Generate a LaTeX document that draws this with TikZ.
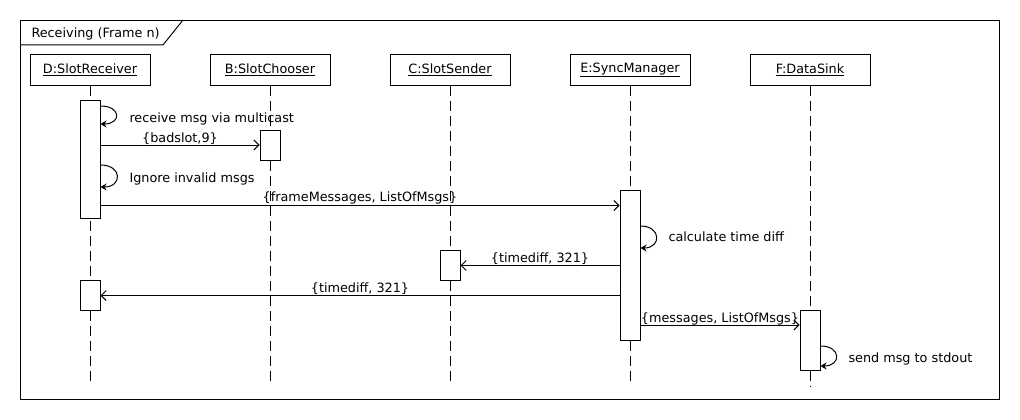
\documentclass[tikz,border=0pt]{standalone}
\usepackage{fontspec}
\setmainfont{DejaVu Sans}
\usetikzlibrary{arrows.meta}
\begin{document}
\begin{tikzpicture}[x=1pt,y=-1pt,line width=1pt,
  font=\fontsize{12.8}{15}\selectfont,
  head/.style={draw,minimum width=120pt,minimum height=30pt,inner sep=0pt},
  act/.style={draw,fill=white,minimum width=20pt,inner sep=0pt},
  life/.style={dash pattern=on 10pt off 5pt,line width=0.9pt},
  msg/.style={-{Straight Barb[length=5pt,width=10pt]}},
  selfmsg/.style={-{Stealth[length=6pt,width=7pt]}},
  lbl/.style={anchor=base,inner sep=0pt,yshift=3pt},
  note/.style={anchor=base west,inner sep=0pt}]
\useasboundingbox (0,0) rectangle (1020,420);
% frame
\node[draw,minimum width=979pt,minimum height=379pt,anchor=north west,inner sep=0pt] (frame) at (20,20) {};
\coordinate (tabL) at (20,45);
\coordinate (tabB) at (163,45);
\coordinate (tabT) at (183,20);
\draw (tabL) -- (tabB) -- (tabT);
\node[note] (title) at (31,37.5) {Receiving (Frame n)};
% heads
\node[head] (hD) at (90,70) {\underline{D:SlotReceiver}};
\node[head] (hB) at (270,70) {\underline{B:SlotChooser}};
\node[head] (hC) at (450,70) {\underline{C:SlotSender}};
\node[head] (hE) at (630,70) {\underline{E:SyncManager}};
\node[head] (hF) at (810,70) {\underline{F:DataSink}};
% lifeline ends
\coordinate (eD) at (90,384);
\coordinate (eB) at (270,384);
\coordinate (eC) at (450,384);
\coordinate (eE) at (630,384);
\coordinate (eF) at (810,386);
\draw[life] (hD.south) -- (eD);
\draw[life] (hB.south) -- (eB);
\draw[life] (hC.south) -- (eC);
\draw[life] (hE.south) -- (eE);
\draw[life] (hF.south) -- (eF);
% activations
\node[act,minimum height=118pt] (aD1) at (90,159) {};
\node[act,minimum height=30pt] (aB) at (270,145) {};
\node[act,minimum height=150pt] (aE) at (630,265) {};
\node[act,minimum height=30pt] (aC) at (450,265) {};
\node[act,minimum height=30pt] (aD2) at (90,295) {};
\node[act,minimum height=60pt] (aF) at (810,340) {};
% self message: receive
\draw[selfmsg] (aD1.east |- 0,106) .. controls +(21,0) and +(21,0) .. (aD1.east |- 0,124);
\node[note] (l1) at (129,122) {receive msg via multicast};
% badslot
\draw[msg] (aD1.east |- 0,145) -- node[lbl] (l2) {\{badslot,9\}} (aB.west |- 0,145);
% ignore
\draw[selfmsg] (aD1.east |- 0,165) .. controls +(22,0) and +(22,0) .. (aD1.east |- 0,187);
\node[note] (l3) at (129,182.5) {Ignore invalid msgs};
% frameMessages
\draw[msg] (aD1.east |- 0,205.5) -- node[lbl,yshift=1pt] (l4) {\{frameMessages, ListOfMsgs\}} (aE.west |- 0,205.5);
% calculate
\draw[selfmsg] (aE.east |- 0,226) .. controls +(21,0) and +(21,0) .. (aE.east |- 0,248);
\node[note] (l5) at (668,241.5) {calculate time diff};
% timediff to C
\draw[msg] (aE.west |- 0,265.5) -- node[lbl] (l6) {\{timediff, 321\}} (aC.east |- 0,265.5);
% timediff to D
\draw[msg] (aE.west |- 0,295.5) -- node[lbl] (l7) {\{timediff, 321\}} (aD2.east |- 0,295.5);
% messages to F
\draw[msg] (aE.east |- 0,325) -- node[lbl] (l8) {\{messages, ListOfMsgs\}} (aF.west |- 0,325);
% send msg
\draw[selfmsg] (aF.east |- 0,346) .. controls +(21,0) and +(21,0) .. (aF.east |- 0,366);
\node[note] (l9) at (848,362.5) {send msg to stdout};
\end{tikzpicture}
\end{document}
